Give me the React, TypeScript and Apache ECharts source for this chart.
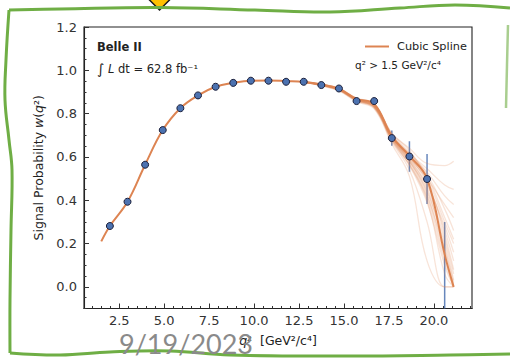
import React, { useEffect, useRef } from 'react';
import * as echarts from 'echarts';

// ---------- data ----------
const binX = [1.98, 2.96, 3.94, 4.92, 5.90, 6.88, 7.86, 8.84, 9.82, 10.80, 11.78, 12.76, 13.74, 14.72, 15.70, 16.68, 17.66, 18.64, 19.62, 20.60];
const prob = [0.281, 0.393, 0.564, 0.724, 0.825, 0.884, 0.924, 0.942, 0.952, 0.952, 0.947, 0.947, 0.932, 0.916, 0.858, 0.858, 0.687, 0.602, 0.498, -0.25];
const probErr = [0.008, 0.008, 0.008, 0.008, 0.008, 0.008, 0.008, 0.008, 0.008, 0.008, 0.008, 0.008, 0.01, 0.01, 0.012, 0.015, 0.035, 0.07, 0.115, 0.55];

const splineX = [1.5, 1.98, 2.96, 3.94, 4.92, 5.90, 6.88, 7.86, 8.84, 9.82, 10.80, 11.78, 12.76, 13.74, 14.72, 15.70, 16.68, 17.66, 18.64, 19.62, 20.60, 21.1];
const splineY = [0.21, 0.281, 0.393, 0.564, 0.724, 0.825, 0.884, 0.924, 0.942, 0.952, 0.953, 0.950, 0.946, 0.934, 0.914, 0.868, 0.845, 0.695, 0.605, 0.50, 0.15, 0.0];

const ensembleX = [12.76, 13.74, 14.72, 15.70, 16.68, 17.66, 18.64, 19.62, 20.60, 21.1];
const ensembleY = [
  [0.948, 0.935, 0.915, 0.870, 0.840, 0.700, 0.610, 0.530, 0.420, 0.380],
  [0.947, 0.933, 0.912, 0.865, 0.835, 0.690, 0.590, 0.460, 0.220, 0.060],
  [0.946, 0.930, 0.908, 0.860, 0.828, 0.675, 0.560, 0.390, 0.100, 0.000],
  [0.949, 0.937, 0.918, 0.872, 0.845, 0.710, 0.640, 0.570, 0.560, 0.580],
  [0.947, 0.932, 0.910, 0.862, 0.832, 0.682, 0.575, 0.420, 0.170, 0.000],
  [0.945, 0.928, 0.905, 0.855, 0.822, 0.660, 0.510, 0.120, 0.000, 0.000],
  [0.948, 0.936, 0.916, 0.868, 0.842, 0.705, 0.620, 0.520, 0.360, 0.260],
  [0.947, 0.934, 0.913, 0.866, 0.838, 0.695, 0.600, 0.480, 0.260, 0.120],
  [0.946, 0.931, 0.909, 0.861, 0.830, 0.680, 0.565, 0.400, 0.060, 0.000],
  [0.948, 0.935, 0.917, 0.869, 0.843, 0.708, 0.630, 0.500, 0.300, 0.200],
  [0.947, 0.933, 0.911, 0.864, 0.834, 0.688, 0.585, 0.440, 0.200, 0.030],
  [0.946, 0.930, 0.907, 0.858, 0.826, 0.670, 0.540, 0.300, 0.000, 0.000],
  [0.948, 0.936, 0.915, 0.867, 0.840, 0.700, 0.615, 0.545, 0.470, 0.450],
  [0.947, 0.932, 0.911, 0.863, 0.833, 0.685, 0.580, 0.430, 0.140, 0.000],
  [0.947, 0.934, 0.913, 0.866, 0.838, 0.692, 0.598, 0.490, 0.240, 0.080],
  [0.946, 0.932, 0.910, 0.862, 0.831, 0.684, 0.580, 0.450, 0.180, 0.020],
  [0.948, 0.935, 0.915, 0.868, 0.841, 0.700, 0.612, 0.510, 0.320, 0.220],
  [0.947, 0.933, 0.912, 0.864, 0.835, 0.688, 0.590, 0.470, 0.280, 0.160],
  [0.946, 0.931, 0.909, 0.860, 0.829, 0.678, 0.565, 0.410, 0.120, 0.000],
  [0.947, 0.933, 0.912, 0.865, 0.836, 0.690, 0.595, 0.500, 0.380, 0.320],
];

const xMajorTicks = [2.5, 5.0, 7.5, 10.0, 12.5, 15.0, 17.5, 20.0];
const xMinorTicks = [1, 1.5, 2, 3, 3.5, 4, 4.5, 5.5, 6, 6.5, 7, 8, 8.5, 9, 9.5, 10.5, 11, 11.5, 12, 13, 13.5, 14, 14.5, 15.5, 16, 16.5, 17, 18, 18.5, 19, 19.5, 20.5, 21, 21.5, 22];
const yMajorTicks = [0.0, 0.2, 0.4, 0.6, 0.8, 1.0, 1.2];
const yMinorTicks = [-0.1, -0.05, 0.05, 0.1, 0.15, 0.25, 0.3, 0.35, 0.45, 0.5, 0.55, 0.65, 0.7, 0.75, 0.85, 0.9, 0.95, 1.05, 1.1, 1.15];

const FONT = 'DejaVu Sans';
const BLUE = '#4c72b0';
const ORANGE = '#dd8452';
const GREEN = '#6fae45';

export default function App() {
  const ref = useRef<HTMLDivElement>(null);

  useEffect(() => {
    if (!ref.current) return;
    const chart = echarts.init(ref.current, undefined, { renderer: 'svg' });

    const pointData = binX.map((x, i) => [x, prob[i], probErr[i]]);
    const splineData = splineX.map((x, i) => [x, splineY[i]]);

    const ensembleSeries = ensembleY.map((row, k) => ({
      type: 'line',
      name: 'ens' + k,
      data: ensembleX.map((x, i) => [x, row[i]]),
      smooth: 0.4,
      symbol: 'none',
      silent: true,
      clip: true,
      lineStyle: { color: ORANGE, width: 1.3, opacity: 0.22 },
      z: 3,
    }));

    const axisCommon = {
      type: 'value',
      splitLine: { show: false },
    };

    chart.setOption({
      animation: false,
      backgroundColor: '#ffffff',
      grid: {
        left: 84,
        top: 27,
        right: 38,
        bottom: 50.5,
        show: true,
        backgroundColor: '#ffffff',
        borderColor: '#222222',
        borderWidth: 1.1,
        containLabel: false,
      },
      legend: {
        data: [{ name: 'Cubic Spline', icon: 'rect' }],
        left: 360,
        top: 36,
        itemWidth: 24,
        itemHeight: 2,
        itemGap: 8,
        textStyle: { fontFamily: FONT, fontSize: 11.3, color: '#222', padding: [0, 0, 0, 3] },
        selectedMode: false,
      },
      xAxis: [
        {
          ...axisCommon,
          min: 0.54,
          max: 22.12,
          position: 'bottom',
          name: '{i|q}²  [GeV²/c⁴]',
          nameLocation: 'middle',
          nameGap: 25,
          nameTextStyle: {
            fontFamily: FONT,
            fontSize: 12.5,
            color: '#222',
            rich: { i: { fontFamily: FONT, fontSize: 12.5, fontStyle: 'italic', color: '#222' } },
          },
          axisLine: { show: true, onZero: false, lineStyle: { color: '#222', width: 1.1 } },
          axisTick: { show: true, inside: true, length: 5, customValues: xMajorTicks, lineStyle: { color: '#333' } },
          axisLabel: {
            show: true,
            customValues: xMajorTicks,
            margin: 5,
            fontFamily: FONT,
            fontSize: 13,
            color: '#333',
            formatter: (v: number) => v.toFixed(1),
          },
        },
        {
          ...axisCommon,
          min: 0.54,
          max: 22.12,
          position: 'bottom',
          axisLine: { show: false, onZero: false },
          axisTick: { show: true, inside: true, length: 2.5, customValues: xMinorTicks, lineStyle: { color: '#333' } },
          axisLabel: { show: false },
        },
      ],
      yAxis: [
        {
          ...axisCommon,
          min: -0.1,
          max: 1.2,
          position: 'left',
          name: 'Signal Probability {i|w}({i|q}²)',
          nameLocation: 'middle',
          nameRotate: 90,
          nameGap: 32,
          nameTextStyle: {
            fontFamily: FONT,
            fontSize: 12.5,
            color: '#222',
            rich: { i: { fontFamily: FONT, fontSize: 12.5, fontStyle: 'italic', color: '#222' } },
          },
          axisLine: { show: true, onZero: false, lineStyle: { color: '#222', width: 1.1 } },
          axisTick: { show: true, inside: true, length: 5, customValues: yMajorTicks, lineStyle: { color: '#333' } },
          axisLabel: {
            show: true,
            customValues: yMajorTicks,
            margin: 7,
            fontFamily: FONT,
            fontSize: 13,
            color: '#333',
            formatter: (v: number) => v.toFixed(1),
          },
        },
        {
          ...axisCommon,
          min: -0.1,
          max: 1.2,
          position: 'left',
          axisLine: { show: false, onZero: false },
          axisTick: { show: true, inside: true, length: 2.5, customValues: yMinorTicks, lineStyle: { color: '#333' } },
          axisLabel: { show: false },
        },
      ],
      series: [
        {
          type: 'custom',
          name: 'errors',
          silent: true,
          clip: true,
          data: pointData,
          encode: { x: 0, y: 1 },
          z: 2,
          renderItem: (params: any, api: any) => {
            const x = api.value(0);
            const y = api.value(1);
            const e = api.value(2);
            const top = api.coord([x, y + e]);
            const bot = api.coord([x, y - e]);
            return {
              type: 'line',
              shape: { x1: top[0], y1: top[1], x2: bot[0], y2: bot[1] },
              style: { stroke: BLUE, lineWidth: 1.5, opacity: 0.85 },
            };
          },
        },
        ...ensembleSeries,
        {
          type: 'line',
          name: 'Cubic Spline',
          data: splineData,
          smooth: 0.4,
          symbol: 'none',
          clip: true,
          lineStyle: { color: ORANGE, width: 2 },
          itemStyle: { color: ORANGE },
          z: 4,
        },
        {
          type: 'scatter',
          name: 'data',
          data: pointData.map((p) => [p[0], p[1]]),
          symbol: 'circle',
          symbolSize: 7,
          clip: true,
          itemStyle: { color: BLUE, borderColor: '#1b1f3a', borderWidth: 1, opacity: 1 },
          z: 5,
        },
      ],
      graphic: [
        {
          type: 'text',
          x: 97,
          y: 47,
          z: 10,
          style: { text: 'Belle II', fontFamily: FONT, fontSize: 11.5, fontWeight: 'bold', fill: '#222', verticalAlign: 'middle' },
        },
        {
          type: 'text',
          x: 97,
          y: 68.5,
          z: 10,
          style: {
            text: '{big|∫} {i|L} dt = 62.8 fb⁻¹',
            fontFamily: FONT,
            fontSize: 11.5,
            fill: '#222',
            verticalAlign: 'middle',
            rich: {
              big: { fontFamily: FONT, fontSize: 14, fill: '#222' },
              i: { fontFamily: FONT, fontSize: 11.5, fontStyle: 'italic', fill: '#222' },
            },
          },
        },
        {
          type: 'text',
          x: 355,
          y: 65,
          z: 10,
          style: { text: 'q² > 1.5 GeV²/c⁴', fontFamily: FONT, fontSize: 10.5, fill: '#222', verticalAlign: 'middle' },
        },
        {
          type: 'polygon',
          z: 20,
          shape: { points: [[159.5, -14], [171.5, -2], [159.5, 10], [147.5, -2]] },
          style: { fill: '#ffc000', stroke: '#1a1a1a', lineWidth: 1.5 },
        },
        {
          type: 'polyline',
          z: 21,
          shape: {
            points: [[9, 10], [60, 9], [160, 7.5], [255, 10], [330, 12], [400, 8], [455, 5], [510, 8]],
            smooth: 0.4,
          },
          style: { stroke: GREEN, lineWidth: 3, fill: null },
        },
        {
          type: 'polyline',
          z: 21,
          shape: {
            points: [[9, 10], [6, 60], [5, 100], [9, 140], [12, 170], [11, 230], [10, 300], [10, 353]],
            smooth: 0.4,
          },
          style: { stroke: GREEN, lineWidth: 3, fill: null },
        },
        {
          type: 'polyline',
          z: 21,
          shape: {
            points: [[10, 353], [60, 355], [110, 352], [170, 351], [230, 355], [350, 356], [450, 355], [510, 354]],
            smooth: 0.4,
          },
          style: { stroke: GREEN, lineWidth: 3, fill: null },
        },
        {
          type: 'polyline',
          z: 21,
          shape: { points: [[508, 25], [507, 65], [506, 108]], smooth: 0.4 },
          style: { stroke: GREEN, lineWidth: 2.5, fill: null, opacity: 0.6 },
        },
        {
          type: 'text',
          x: 119,
          y: 343,
          z: 30,
          style: { text: '9/19/2023', fontFamily: 'Lato', fontSize: 27, fill: '#8a8a8a', verticalAlign: 'middle' },
        },
      ],
    });

    return () => chart.dispose();
  }, []);

  return <div ref={ref} style={{ position: 'absolute', left: 0, top: 0, width: 510, height: 359 }} />;
}
